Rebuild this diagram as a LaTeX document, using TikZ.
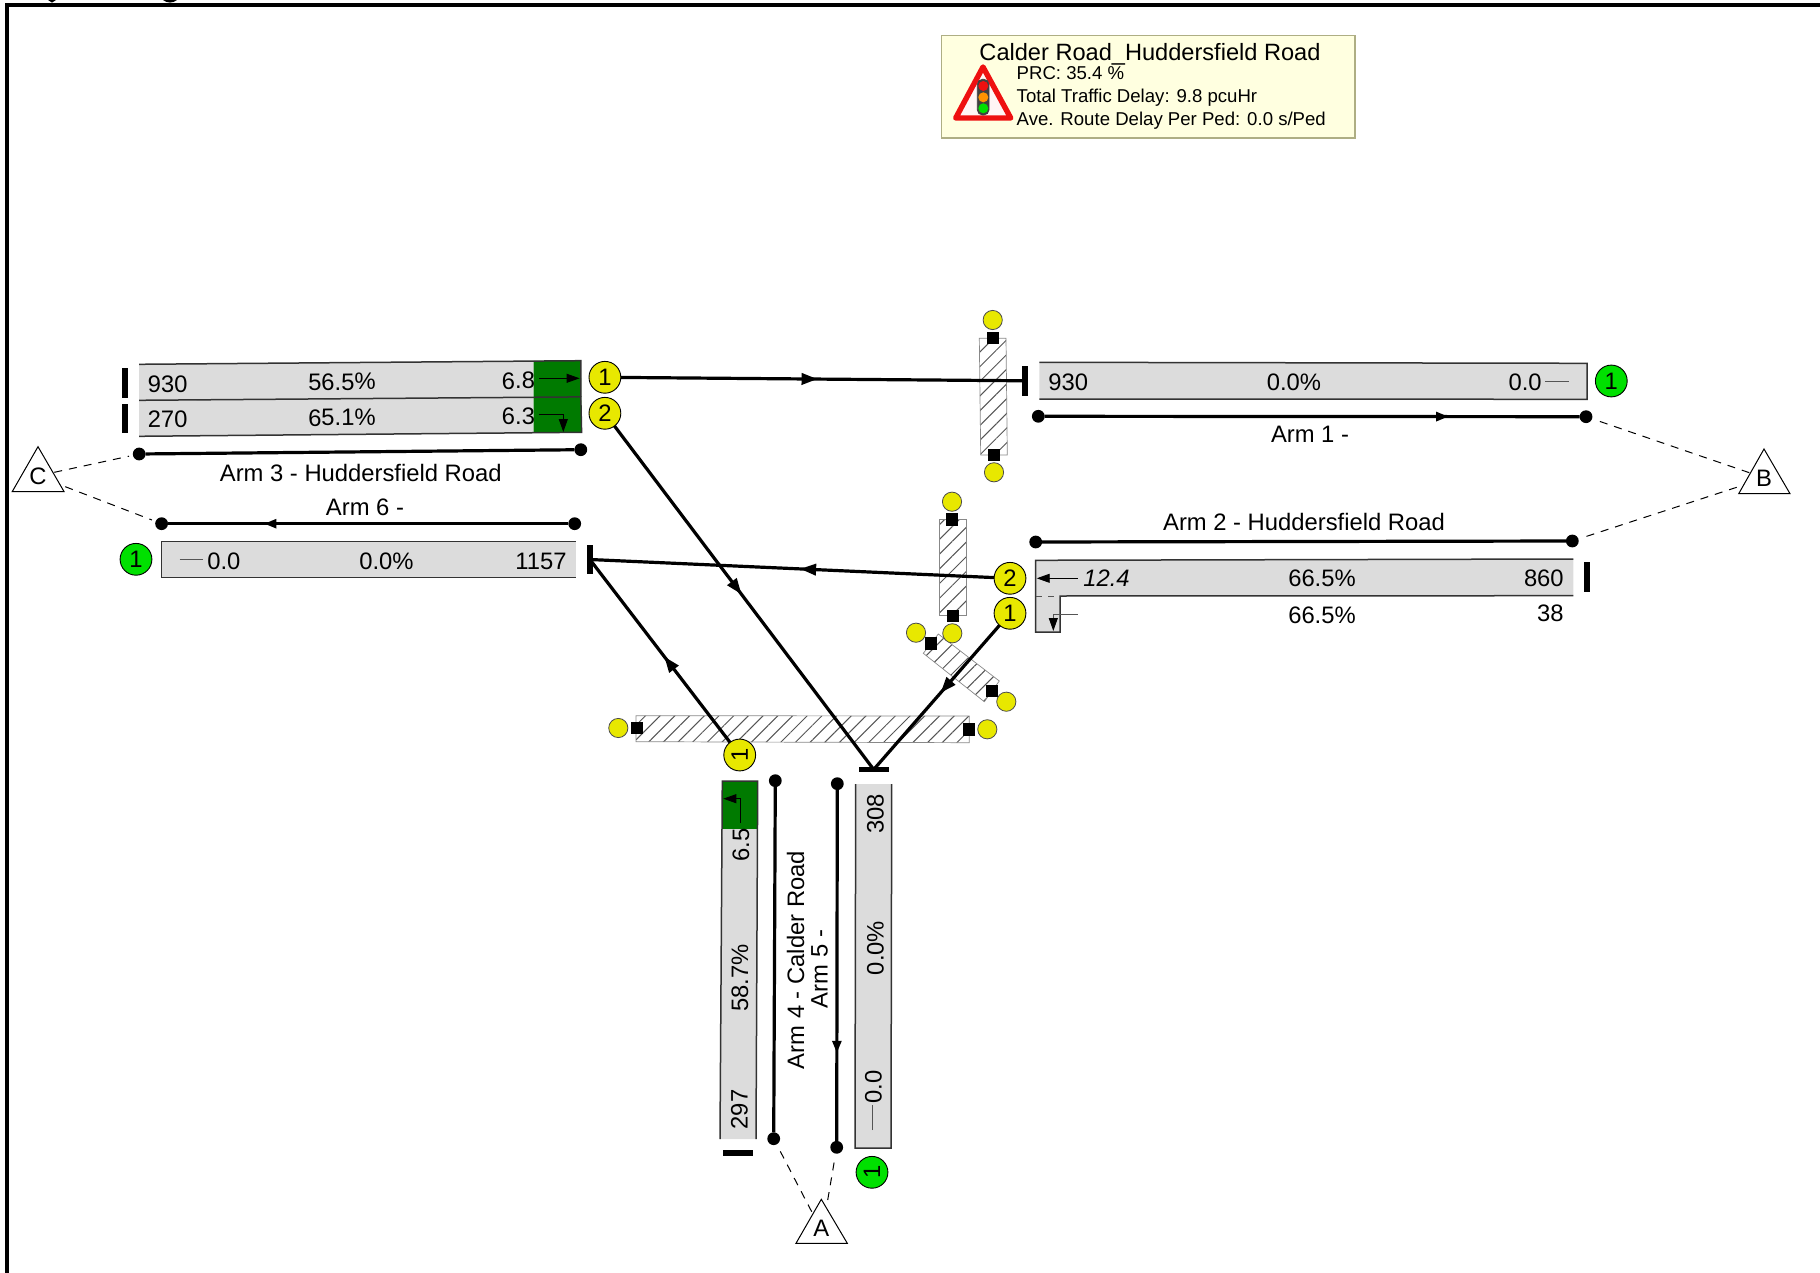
\documentclass[tikz,border=0pt]{standalone}
\usepackage{fontspec}
\setmainfont{Liberation Sans}
\usetikzlibrary{arrows.meta,patterns.meta,decorations.markings}
\definecolor{lanegrey}{HTML}{DCDCDC}
\definecolor{edgegrey}{HTML}{333333}
\definecolor{boxyellow}{HTML}{FFFFE0}
\definecolor{boxedge}{HTML}{AEAE84}
\definecolor{sigyellow}{HTML}{E8E800}
\definecolor{siggreen}{HTML}{00E000}
\definecolor{darkgreen}{HTML}{007A00}
\definecolor{hatchgrey}{HTML}{555555}
\definecolor{signred}{HTML}{EE1010}
\tikzset{
 every node/.style={inner sep=0pt,outer sep=0pt},
 lbl/.style={font=\fontsize{11.9}{14}\selectfont,text=black},
 lblit/.style={font=\fontsize{11.9}{14}\selectfont\itshape,text=black},
 info/.style={font=\fontsize{9.3}{12}\selectfont,text=black,anchor=base west},
 phase/.style={circle,draw=black,line width=.45pt,minimum size=15.9pt,font=\fontsize{11.9}{14}\selectfont},
 phasey/.style={phase,fill=sigyellow},
 phaseg/.style={phase,fill=siggreen},
 ped/.style={circle,draw=black!70,line width=.4pt,fill=sigyellow,minimum size=9.6pt},
 pedbox/.style={fill=black,minimum size=6.2pt},
 hatch/.style={draw=hatchgrey!70,line width=.35pt,pattern={Lines[angle=45,distance=5.2pt,line width=.5pt]},pattern color=hatchgrey},
 dot/.style={circle,fill=black,minimum size=6.4pt},
 barv/.style={fill=black,minimum width=2.9pt,minimum height=14.8pt},
 barh/.style={fill=black,minimum width=14.8pt,minimum height=2.9pt},
 conn/.style={line width=1.6pt,black},
 dashl/.style={line width=.5pt,dash pattern=on 4pt off 3.5pt,black},
 lanefill/.style={fill=lanegrey},
 laneedge/.style={draw=edgegrey,line width=.75pt},
 thinarr/.style={line width=.45pt,-{Triangle[length=6.5pt,width=4.5pt]}},
 thingrey/.style={line width=.5pt,draw=hatchgrey},
 midarr/.style n args={3}{postaction={decorate,decoration={markings,mark=at position #1 with {\arrow{Triangle[length=#2pt,width=#3pt]}}}}},
 tri/.style={draw=black,line width=.5pt,fill=white,line join=miter},
}
\begin{document}
\begin{tikzpicture}[x=.5pt,y=-.5pt]
\useasboundingbox (0,0) rectangle (1820,1273);
% frame
\draw[line width=2pt] (1820,4.8) -- (7,4.8) -- (7,1273);
\fill (48,0) -- (56,0) -- (52,2.6) -- cycle;
\fill (163,0) .. controls (167,3.4) and (173,3.4) .. (177,0) -- cycle;

% info box
\draw[fill=boxyellow,draw=boxedge,line width=.6pt] (941.7,35.7) rectangle (1355,138);
\node[lbl,font=\fontsize{11.8}{14}\selectfont,anchor=base] (title) at (1150,60.7) {Calder Road\_Huddersfield Road};
\node[info] (prc) at (1016.7,79.7) {PRC: 35.4 \%};
\node[info] (delay) at (1016.7,103) {Total Traffic Delay: 9.8 pcuHr};
\node[info] (avg) at (1016.7,126) {Ave. Route Delay Per Ped: 0.0 s/Ped};
\draw[draw=signred,fill=white!96!red,line width=2.7pt,line join=round] (983,67) -- (1010.7,118) -- (955.7,118) -- cycle;
\draw[fill=black!75,draw=black!75,rounded corners=2.6pt] (977.3,79.3) rectangle (989,115);
\fill[signred] (983.3,86) circle (5);
\fill[orange!85!yellow] (983.3,97.3) circle (5);
\fill[siggreen] (983.3,108.3) circle (5);

% pedestrian crossings
\path[hatch] (979.3,338.3) -- (1006,338.3) -- (1007.3,455) -- (980.7,455) -- cycle;
\path[hatch] (939.3,519.3) -- (966,519.3) -- (966,615.7) -- (939.3,615.7) -- cycle;
\path[hatch] (938.3,634) -- (999.3,681) -- (984.3,701.7) -- (923.3,653.3) -- cycle;
\path[hatch] (636,715.7) -- (969.3,716) -- (969.3,742.7) -- (636,741.7) -- cycle;
\node[pedbox] (s1) at (992.7,337.7) {}; \node[ped] (p1) at (992.7,320) {};
\node[pedbox] (s2) at (993.7,454.7) {}; \node[ped] (p2) at (994,472.3) {};
\node[pedbox] (s3) at (952,519.3) {}; \node[ped] (p3) at (952,501.7) {};
\node[pedbox] (s4) at (952.7,615.7) {}; \node[ped] (p4) at (952.3,633.3) {};
\node[pedbox] (s5) at (930.7,643.3) {}; \node[ped] (p5) at (916,632.7) {};
\node[pedbox] (s6) at (992,690.7) {}; \node[ped] (p6) at (1006.3,701.7) {};
\node[pedbox] (s7) at (636.7,728) {}; \node[ped] (p7) at (618.3,728) {};
\node[pedbox] (s8) at (969,729.3) {}; \node[ped] (p8) at (987.3,729.3) {};

% arm 3 lanes
\fill[lanefill] (139.2,364.3) -- (533.5,361) -- (533.5,397.6) -- (139.2,400) -- cycle;
\fill[lanefill] (139.2,400.7) -- (533.5,397.6) -- (533.5,433) -- (139.2,436.3) -- cycle;
\fill[darkgreen] (533.5,361) -- (580.8,360.7) -- (581.6,432.3) -- (533.5,433) -- cycle;
\draw[laneedge] (139.2,364.3) -- (580.8,360.7) -- (580.8,396.7);
\draw[laneedge] (139.2,400.3) -- (580.8,396.9) -- (581.6,432.3) -- (139.2,436.3);
\node[barv] (b3a) at (124.9,382.7) {};
\node[barv] (b3b) at (124.9,418.5) {};
\node[lbl,anchor=base west,rotate=.6] (t1) at (147.8,392.3) {930};
\node[lbl,anchor=base,rotate=.6] (t2) at (342,390) {56.5\%};
\node[lbl,anchor=base east,rotate=.6] (t3) at (535,388.7) {6.8};
\node[lbl,anchor=base west,rotate=.6] (t4) at (147.8,427.7) {270};
\node[lbl,anchor=base,rotate=.6] (t5) at (342,425.7) {65.1\%};
\node[lbl,anchor=base east,rotate=.6] (t6) at (535,424) {6.3};
\draw[thinarr] (538.8,378.3) -- (579.6,378.3);
\draw[thinarr] (538.8,414) -- (563.3,414) -- (563.3,432);
\node[phasey] (c31) at (604.9,377.3) {1};
\node[phasey] (c32) at (604.9,413.3) {2};
\node[dot] (d3a) at (139.2,454) {};
\node[dot] (d3b) at (580.8,449.7) {};
\draw[conn] (d3a) -- (d3b);
\node[lbl,anchor=base] (a3) at (360.8,481.7) {Arm 3 - Huddersfield Road};

% arm 6
\fill[lanefill] (161.6,541.3) rectangle (575.5,577.7);
\draw[laneedge] (575.5,541.3) -- (161.6,541.3) -- (161.6,577.7) -- (575.5,577.7);
\node[dot] (d6a) at (161.6,523.7) {};
\node[dot] (d6b) at (574.7,523.7) {};
\draw[conn,midarr={.76}{6.2}{4.4}] (d6b) -- (d6a);
\node[lbl,anchor=base] (a6) at (365,515) {Arm 6 -};
\node[lbl,anchor=base west] (t7) at (207.3,569) {0.0};
\draw[thingrey] (179.6,559.3) -- (203.3,559.3);
\node[lbl,anchor=base] (t8) at (386.5,569) {0.0\%};
\node[lbl,anchor=base east] (t9) at (566.5,569) {1157};
\node[phaseg] (c6) at (136,559.3) {1};
\node[barv] (b6) at (589.9,559.5) {};

% arm 1
\fill[lanefill] (1039.3,362.3) -- (1587,363.3) -- (1587,399.3) -- (1039.3,399) -- cycle;
\draw[laneedge] (1039.3,362.3) -- (1587,363.3) -- (1587,399.3) -- (1039.3,399);
\node[lbl,anchor=base west] (t10) at (1048.3,390) {930};
\node[lbl,anchor=base] (t11) at (1294,390) {0.0\%};
\node[lbl,anchor=base east] (t12) at (1541.7,390.7) {0.0};
\draw[thingrey] (1545,381.7) -- (1569.3,381.7);
\node[phaseg] (c1) at (1611.3,381) {1};
\node[barv] (b1) at (1025.2,380.8) {};
\node[dot] (d1a) at (1038.3,416.3) {};
\node[dot] (d1b) at (1586,416.7) {};
\draw[conn,midarr={.755}{6.2}{4.4}] (d1a) -- (d1b);
\node[lbl,anchor=base] (a1) at (1310,442.7) {Arm 1 -};

% arm 2
\fill[lanefill] (1035.7,560.3) -- (1573.3,559) -- (1573.3,595.7) -- (1060,596) -- (1060,632) -- (1035.7,632) -- cycle;
\draw[laneedge] (1573.3,559) -- (1035.7,560.3) -- (1035.7,632) -- (1060,632) -- (1060,596) -- (1573.3,595.7);
\draw[hatchgrey,line width=.4pt,dashed] (1036,596) -- (1060,596);
\node[dot] (d2a) at (1035.7,542) {};
\node[dot] (d2b) at (1572.3,541) {};
\draw[conn] (d2a) -- (d2b);
\node[lbl,anchor=base] (a2) at (1304,530.3) {Arm 2 - Huddersfield Road};
\draw[thinarr] (1077.7,578.3) -- (1036.7,578.3);
\node[lblit,anchor=base west] (t13) at (1083.3,586) {12.4};
\node[lbl,anchor=base] (t14) at (1322,586.7) {66.5\%};
\node[lbl,anchor=base east] (t15) at (1563.7,586) {860};
\node[lbl,anchor=base] (t16) at (1322,623.3) {66.5\%};
\node[lbl,anchor=base east] (t17) at (1563.7,621.7) {38};
\draw[thingrey] (1077.7,614) -- (1053.3,614) -- (1053.3,620);
\draw[thinarr] (1053.3,618) -- (1053.3,631);
\node[phasey] (c22) at (1010,578.3) {2};
\node[phasey] (c21) at (1010,613.3) {1};
\node[barv] (b2) at (1587.2,577) {};

% arm 4
\fill[lanefill] (722.3,829) -- (757,829) -- (756,1139) -- (720,1139) -- cycle;
\fill[darkgreen] (722.3,781) rectangle (757.7,829);
\draw[laneedge] (720,1139) -- (722.3,781) -- (757.7,781) -- (756,1139);
\node[lbl,anchor=base west,rotate=90] (t18) at (747.5,1129.3) {297};
\node[lbl,anchor=base,rotate=90] (t19) at (748,978) {58.7\%};
\node[lbl,anchor=base east,rotate=90] (t20) at (749,828.3) {6.5};
\draw[thinarr] (740,823.3) -- (740,798.7) -- (723.3,798.7);
\node[phasey,rotate=90] (c4) at (739.7,755) {1};
\node[barh] (b4) at (738,1153.3) {};
\node[dot] (d4a) at (775.3,780.7) {};
\node[dot] (d4b) at (773.7,1138.7) {};
\draw[conn] (d4a) -- (d4b);
\node[lbl,anchor=base,rotate=90] (a4) at (804,960) {Arm 4 - Calder Road};

% arm 5
\fill[lanefill] (855.7,784) -- (891.7,784) -- (891,1148) -- (855,1148) -- cycle;
\draw[laneedge] (855.7,784) -- (855,1148) -- (891,1148) -- (891.7,784);
\node[lbl,anchor=base,rotate=90] (a5) at (827.5,969) {Arm 5 -};
\node[dot] (d5a) at (837.3,783.7) {};
\node[dot] (d5b) at (836.7,1147.3) {};
\draw[conn,midarr={.75}{6.2}{4.4}] (d5a) -- (d5b);
\node[lbl,anchor=base,rotate=90] (t21) at (883.5,814) {308};
\node[lbl,anchor=base,rotate=90] (t22) at (883.5,948) {0.0\%};
\node[lbl,anchor=base west,rotate=90] (t23) at (881.5,1103.7) {0.0};
\draw[thingrey] (872.3,1130) -- (872.3,1105);
\node[phaseg,rotate=90] (c5) at (872,1172.3) {1};
\node[barh] (b5) at (873.7,769.5) {};

% connectors between arms
\draw[conn,midarr={.49}{8}{5.6}] (c31) -- (b1);
\draw[conn,midarr={.49}{8}{5.6}] (c32) -- (b5.center);
\draw[conn,midarr={.47}{8}{5.6}] (c21) -- (b5.center);
\draw[conn,midarr={.48}{8}{5.6}] (c22) -- (b6.center);
\draw[conn,midarr={.47}{8}{5.6}] (c4) -- (b6.center);

% zones
\draw[tri] (38,446.7) -- (64.1,491.7) -- (12.2,491.7) -- cycle;
\node[lbl,anchor=base] (zc) at (38,484) {C};
\draw[tri] (1764,449) -- (1790,493.7) -- (1738.7,493.7) -- cycle;
\node[lbl,anchor=base] (zb) at (1764,486) {B};
\draw[tri] (821.3,1199.3) -- (847.3,1243.3) -- (796,1243.3) -- cycle;
\node[lbl,anchor=base] (za) at (821.3,1236.7) {A};
\coordinate (zc1) at (54.3,472.3);
\coordinate (zc2) at (65.3,486.7);
\coordinate (zb1) at (1749.3,472.7);
\coordinate (zb2) at (1736.7,487.3);
\coordinate (za1) at (811.7,1211.7);
\coordinate (za2) at (827.7,1200);
\draw[dashl,shorten >=2pt] (zc1) -- (d3a);
\draw[dashl,shorten >=2pt] (zc2) -- (d6a);
\draw[dashl,shorten >=2pt] (zb1) -- (d1b);
\draw[dashl,shorten >=2pt] (zb2) -- (d2b);
\draw[dashl,shorten >=2pt] (za1) -- (d4b);
\draw[dashl,shorten >=4pt] (za2) -- (d5b);
\end{tikzpicture}
\end{document}
